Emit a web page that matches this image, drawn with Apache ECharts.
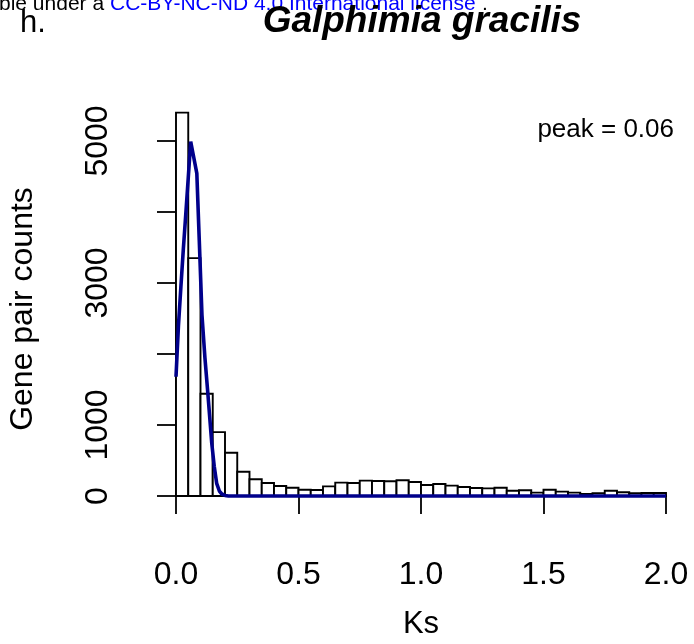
<!DOCTYPE html>
<html>
<head>
<meta charset="utf-8">
<script src="https://cdn.jsdelivr.net/npm/echarts@6/dist/echarts.min.js"></script>
<style>
html,body{margin:0;padding:0;background:#fff;}
#chart{width:694px;height:644px;}
</style>
</head>
<body>
<div id="chart"></div>
<script>
// Histogram of Ks (bin width 0.05, 0 to 2.0)
const binWidth = 0.05;
const counts = [5400, 3350, 1440, 900, 610, 342, 235, 183, 141, 117,
                89, 85, 136, 188, 183, 216, 211, 207, 221, 197,
                155, 169, 146, 127, 112, 108, 117, 75, 80, 47,
                89, 61, 47, 28, 38, 75, 52, 38, 42, 42];
// Fitted curve (Ks, gene pair counts)
const curveKs =     [0, 0.01, 0.02, 0.03, 0.04, 0.05, 0.06, 0.07, 0.085, 0.095, 0.106, 0.118, 0.130, 0.146, 0.156, 0.166, 0.177, 0.187, 0.200, 0.214, 2.0];
const curveCounts = [1680, 2400, 2950, 3480, 3972, 4480, 4990, 4813, 4545, 3600, 2549, 1950, 1446, 742, 420, 179, 70, 28, 8, 0, 0];
// Axis ticks
const xTicks = [0, 0.5, 1.0, 1.5, 2.0];
const xTickLabels = ['0.0', '0.5', '1.0', '1.5', '2.0'];
const yTicks = [0, 1000, 2000, 3000, 4000, 5000];
const yTickLabels = ['0', '1000', '', '3000', '', '5000'];

const FONT = '"Liberation Sans", Arial, Helvetica, sans-serif';

const barData = counts.map((c, i) => [i * binWidth, (i + 1) * binWidth, c]);
const curveData = curveKs.map((k, i) => [k, curveCounts[i]]);

const chart = echarts.init(document.getElementById('chart'), null, {renderer: 'canvas'});
chart.setOption({
  animation: false,
  backgroundColor: '#fff',
  grid: {left: 176, right: 28, top: 141, bottom: 148, containLabel: false},
  xAxis: {
    type: 'value', min: xTicks[0], max: xTicks[xTicks.length - 1], interval: 0.5,
    offset: 16,
    axisLine: {show: true, lineStyle: {color: '#000', width: 1.8}},
    axisTick: {show: true, length: 18, lineStyle: {color: '#000', width: 1.8}},
    axisLabel: {
      show: true, fontSize: 32, color: '#000', fontFamily: FONT, margin: 47,
      showMinLabel: true, showMaxLabel: true,
      formatter: function (v) {
        const idx = xTicks.findIndex(t => Math.abs(t - v) < 1e-9);
        return idx >= 0 ? xTickLabels[idx] : '';
      }
    },
    splitLine: {show: false}
  },
  yAxis: {
    type: 'value', min: yTicks[0], max: yTicks[yTicks.length - 1], interval: 1000,
    offset: 20,
    axisLine: {show: true, lineStyle: {color: '#000', width: 1.8}},
    axisTick: {show: true, length: 19, lineStyle: {color: '#000', width: 1.8}},
    axisLabel: {
      show: true, fontSize: 32, color: '#000', fontFamily: FONT, margin: 42, rotate: 90,
      showMinLabel: true, showMaxLabel: true,
      formatter: function (v) {
        const idx = yTicks.indexOf(v);
        return idx >= 0 ? yTickLabels[idx] : '';
      }
    },
    splitLine: {show: false}
  },
  series: [
    {
      type: 'custom',
      clip: false,
      data: barData,
      encode: {x: [0, 1], y: 2},
      renderItem: function (params, api) {
        const p0 = api.coord([api.value(0), api.value(2)]);
        const p1 = api.coord([api.value(1), 0]);
        return {
          type: 'rect',
          shape: {x: p0[0], y: p0[1], width: p1[0] - p0[0], height: p1[1] - p0[1]},
          style: {fill: '#fff', stroke: '#000', lineWidth: 1.9}
        };
      },
      z: 2
    },
    {
      type: 'line',
      data: curveData,
      showSymbol: false,
      symbol: 'none',
      clip: false,
      lineStyle: {color: '#00008B', width: 3.6},
      z: 5
    }
  ],
  graphic: [
    {type: 'text', x: -1, y: 15, style: {text: 'ble under a ', font: '21px ' + FONT, fill: '#000', textAlign: 'left', textVerticalAlign: 'bottom'}},
    {type: 'text', x: 110, y: 15, style: {text: 'CC-BY-NC-ND 4.0 International license', font: '21px ' + FONT, fill: '#0000ff', textAlign: 'left', textVerticalAlign: 'bottom'}},
    {type: 'text', x: 482, y: 15, style: {text: '.', font: '21px ' + FONT, fill: '#000', textAlign: 'left', textVerticalAlign: 'bottom'}},
    {type: 'text', x: 20, y: 23, style: {text: 'h.', font: '31px ' + FONT, fill: '#000', textAlign: 'left', textVerticalAlign: 'middle'}},
    {type: 'text', x: 422, y: 22, style: {text: 'Galphimia gracilis', font: 'italic bold 37px ' + FONT, fill: '#000', textAlign: 'center', textVerticalAlign: 'middle'}},
    {type: 'text', x: 674, y: 130, style: {text: 'peak = 0.06', font: '26px ' + FONT, fill: '#000', textAlign: 'right', textVerticalAlign: 'middle'}},
    {type: 'text', x: 421, y: 624, style: {text: 'Ks', font: '31px ' + FONT, fill: '#000', textAlign: 'center', textVerticalAlign: 'middle'}},
    {type: 'text', x: 23, y: 309, rotation: Math.PI / 2, style: {text: 'Gene pair counts', font: '32px ' + FONT, fill: '#000', textAlign: 'center', textVerticalAlign: 'middle'}}
  ]
});
</script>
</body>
</html>
